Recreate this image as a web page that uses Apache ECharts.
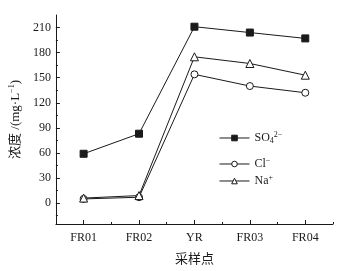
<!DOCTYPE html>
<html>
<head>
<meta charset="utf-8">
<script src="https://cdn.jsdelivr.net/npm/echarts@6/dist/echarts.min.js"></script>
<style>
  html, body { margin: 0; padding: 0; background: #fff; }
  #main { width: 364px; height: 271px; }
</style>
</head>
<body>
<div id="main"></div>
<script>
var sites = ['FR01', 'FR02', 'YR', 'FR03', 'FR04'];
var so4 = [59, 83, 211, 204, 197];
var cl = [5, 7, 154, 140, 132];
var na = [6, 9, 175, 167, 153];
var yLabels = [0, 30, 60, 90, 120, 150, 180, 210];
var yMinor = [-15, 15, 45, 75, 105, 135, 165, 195];

var font = '"Liberation Serif", "Times New Roman", "Noto Sans CJK SC", serif';
var ink = '#1a1a1a';

var chartDom = document.getElementById('main');
var myChart = echarts.init(chartDom);
var option;

var rich = {
  n: { fontFamily: font, fontSize: 12, color: ink },
  sub: { fontFamily: font, fontSize: 8, color: ink, padding: [6, 0, 0, 0] },
  sup: { fontFamily: font, fontSize: 8, color: ink, padding: [0, 0, 6, 0] }
};

function legendOf(name, top) {
  return {
    data: [name],
    left: 219,
    top: top,
    orient: 'vertical',
    itemWidth: 30,
    itemHeight: 7,
    itemGap: 0,
    padding: 0,
    lineStyle: { width: 1 },
    itemStyle: { borderWidth: 1 },
    textStyle: { fontFamily: font, fontSize: 12, color: ink, rich: rich },
    formatter: function (n) {
      if (n === 'SO4') return '{n|SO}{sub|4}{sup|2−}';
      if (n === 'Cl') return '{n|Cl}{sup|−}';
      return '{n|Na}{sup|+}';
    }
  };
}

option = {
  animation: false,
  backgroundColor: '#fff',
  grid: { left: 51, right: 31, top: 15, bottom: 47 },
  legend: [legendOf('SO4', 131), legendOf('Cl', 157), legendOf('Na', 174)],
  xAxis: [
    {
      type: 'category',
      data: sites,
      boundaryGap: true,
      name: '采样点',
      nameLocation: 'middle',
      nameGap: 29,
      nameTextStyle: { fontFamily: font, fontSize: 13, color: ink },
      axisLine: { onZero: false, lineStyle: { color: ink, width: 1 } },
      // 主刻度对准标签
      axisTick: { show: true, alignWithLabel: true, inside: true, length: 4, lineStyle: { color: ink, width: 1 } },
      axisLabel: { fontFamily: font, fontSize: 12, color: ink, margin: 8 }
    },
    {
      // 次刻度，落在类目边界
      type: 'category',
      data: sites,
      boundaryGap: true,
      position: 'bottom',
      axisLine: { show: false, onZero: false },
      axisTick: { show: true, inside: true, length: 2, lineStyle: { color: ink, width: 1 } },
      axisLabel: { show: false }
    }
  ],
  yAxis: [
    {
      type: 'value',
      min: -25,
      max: 225,
      name: '浓度 /(mg·L{sup|−1})',
      nameLocation: 'middle',
      nameGap: 31,
      nameRotate: 90,
      nameTextStyle: { fontFamily: font, fontSize: 13, color: ink, rich: {
        sup: { fontFamily: font, fontSize: 8, color: ink, padding: [0, 0, 7, 0] }
      } },
      splitLine: { show: false },
      axisLine: { show: true, onZero: false, lineStyle: { color: ink, width: 1 } },
      axisTick: { show: true, inside: true, length: 4, customValues: yLabels, lineStyle: { color: ink, width: 1 } },
      axisLabel: { fontFamily: font, fontSize: 12, color: ink, margin: 5, customValues: yLabels }
    },
    {
      type: 'value',
      min: -25,
      max: 225,
      position: 'left',
      splitLine: { show: false },
      axisLine: { show: false, onZero: false },
      axisTick: { show: true, inside: true, length: 2, customValues: yMinor, lineStyle: { color: ink, width: 1 } },
      axisLabel: { show: false }
    }
  ],
  series: [
    {
      name: 'SO4',
      type: 'line',
      data: so4,
      symbol: 'rect',
      symbolSize: 7,
      lineStyle: { color: ink, width: 1 },
      itemStyle: { color: ink, borderColor: ink, borderWidth: 1 }
    },
    {
      name: 'Cl',
      type: 'line',
      data: cl,
      symbol: 'circle',
      symbolSize: 7,
      lineStyle: { color: ink, width: 1 },
      itemStyle: { color: '#fff', borderColor: ink, borderWidth: 1 }
    },
    {
      name: 'Na',
      type: 'line',
      data: na,
      symbol: 'triangle',
      symbolSize: 8,
      lineStyle: { color: ink, width: 1 },
      itemStyle: { color: '#fff', borderColor: ink, borderWidth: 1 }
    }
  ]
};

option && myChart.setOption(option);
</script>
</body>
</html>
